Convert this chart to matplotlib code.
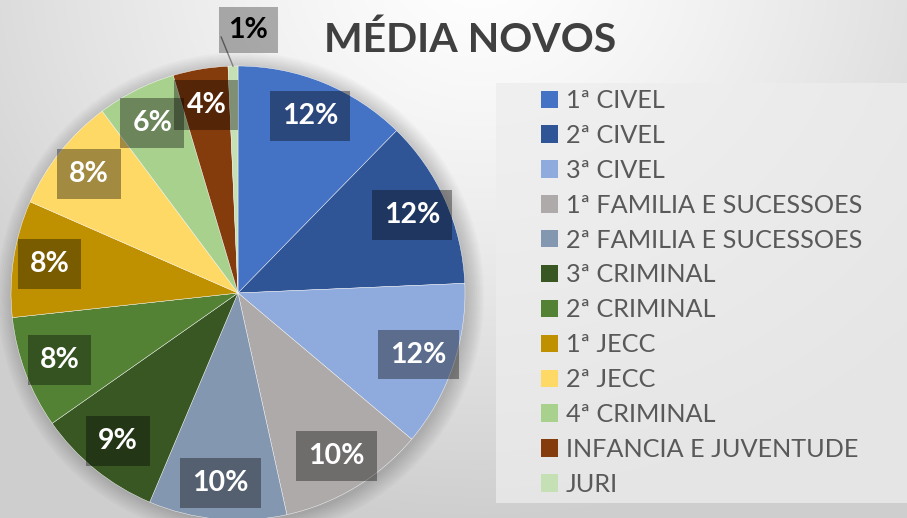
import numpy as np
import matplotlib
matplotlib.use("Agg")
import matplotlib.pyplot as plt
from matplotlib.patches import Rectangle, Circle
import matplotlib.patches as mpatches

categories = ["1ª CIVEL", "2ª CIVEL", "3ª CIVEL", "1ª FAMILIA E SUCESSOES",
              "2ª FAMILIA E SUCESSOES", "3ª CRIMINAL", "2ª CRIMINAL", "1ª JECC",
              "2ª JECC", "4ª CRIMINAL", "INFANCIA E JUVENTUDE", "JURI"]
values = [12.3, 12.0, 11.8, 10.4, 9.8, 8.9, 8.0, 8.3, 8.2, 5.6, 3.9, 0.7]
colors = ["#4472C4", "#2F5597", "#8FAADC", "#AEAAAA", "#8497B0", "#385723",
          "#548235", "#BF9000", "#FFD966", "#A9D18E", "#843C0C", "#C5E0B4"]
title = "MÉDIA NOVOS"

W, H = 907, 518
fig = plt.figure(figsize=(W / 100, H / 100), dpi=100)

# background gradient
bg = fig.add_axes([0, 0, 1, 1], zorder=-10)
yy, xx = np.mgrid[0:H, 0:W]
d = np.sqrt(((xx - 480) / 1.0) ** 2 + ((yy + 40) / 0.9) ** 2)
t = np.clip(d / 620, 0, 1)
g = 1.0 - 0.19 * t ** 1.3
img = np.dstack([g, g, g])
bg.imshow(img, extent=[0, W, H, 0], aspect="auto", interpolation="bilinear")
bg.set_xlim(0, W)
bg.set_ylim(H, 0)
bg.axis("off")

# legend panel
bg.add_patch(Rectangle((496, 83), 420, 420, facecolor="#ededed", edgecolor="none", alpha=0.75))

# pie axes
cx, cy, R = 238, 293, 227
ax = fig.add_axes([(cx - R) / W, (H - cy - R) / H, 2 * R / W, 2 * R / H])

wedges, _ = ax.pie(values, colors=colors, startangle=90, counterclock=False,
                   radius=1.0, wedgeprops=dict(edgecolor="white", linewidth=0.3),
                   normalize=True)
ax.set_xlim(-1, 1)
ax.set_ylim(-1, 1)
ax.set_aspect("auto")
ax.axis("off")
for w in wedges:
    w.set_zorder(1)
    w.set_clip_on(False)

# soft shadow
for i in range(10):
    ax.add_patch(Circle((0.012, -0.012), 1.0 + 0.008 * i, facecolor="black",
                        alpha=0.018, edgecolor="none", zorder=0, clip_on=False))

total = sum(values)
for i, (w, v) in enumerate(zip(wedges, values)):
    pct = round(100 * v / total)
    mid = np.deg2rad((w.theta1 + w.theta2) / 2)
    if i == len(values) - 1:
        x0, y0 = np.cos(mid), np.sin(mid)
        a2 = mid + np.deg2rad(2.5)
        x1, y1 = 1.13 * np.cos(a2), 1.13 * np.sin(a2)
        ax.plot([x0, x1], [y0, y1], color="#7f7f7f", lw=1.0, clip_on=False, zorder=3)
        ax.text(x1 + 0.12, y1 + 0.03, f"{pct}%", ha="center", va="center",
                fontsize=20.5, fontweight="bold", family="Lato", color="black",
                bbox=dict(boxstyle="square,pad=0.35", facecolor="black", alpha=0.3,
                          edgecolor="none"), zorder=4, clip_on=False)
    else:
        r = 0.84
        ax.text(r * np.cos(mid), r * np.sin(mid), f"{pct}%", ha="center", va="center",
                fontsize=20.5, fontweight="bold", family="Lato", color="white",
                bbox=dict(boxstyle="square,pad=0.42", facecolor="black", alpha=0.36,
                          edgecolor="none"), zorder=4, clip_on=False)

fig.text(470 / W, 1 - 40 / H, title, ha="center", va="center", fontsize=29.5,
         fontweight="bold", family="Lato", color="#404040")

handles = [mpatches.Patch(facecolor=c, edgecolor="none") for c in colors]
leg = fig.legend(handles, categories, loc="upper left",
                 bbox_to_anchor=(536 / W, 1 - 84 / H), frameon=False,
                 prop=dict(family="Lato", size=18.2), labelcolor="#595959",
                 handlelength=0.68, handleheight=0.68, handletextpad=0.3,
                 labelspacing=0.47, borderpad=0.2, borderaxespad=0)

fig.savefig("out.png", dpi=100)
